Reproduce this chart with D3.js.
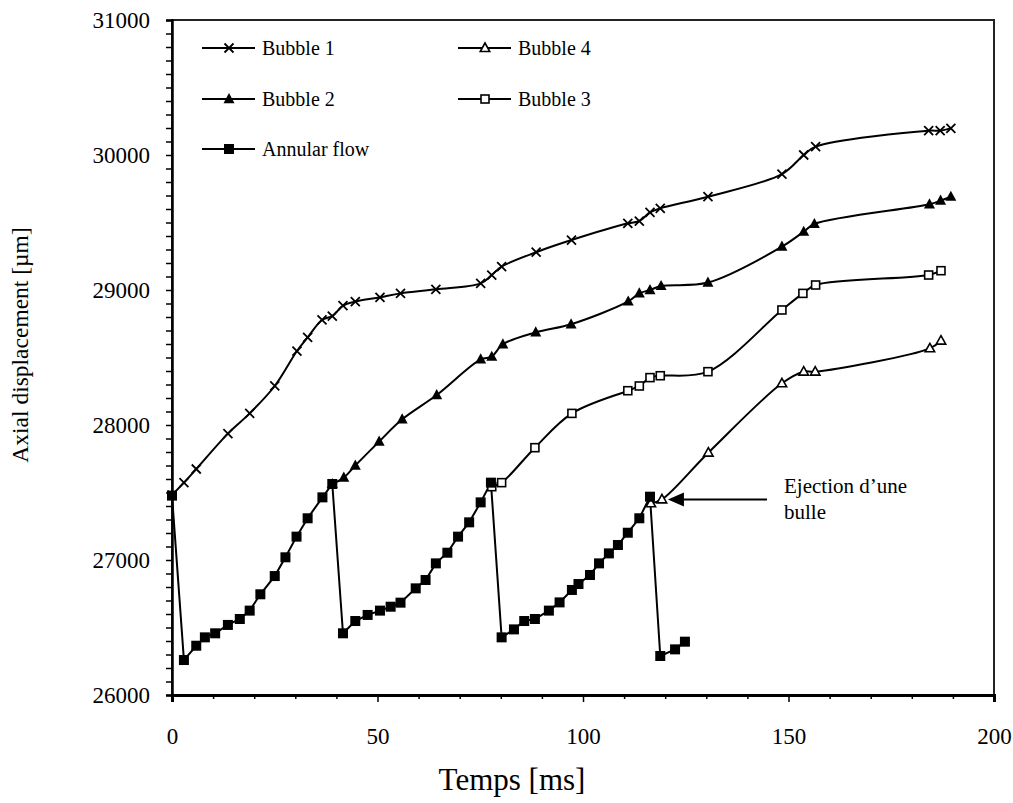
<!DOCTYPE html>
<html>
<head>
<meta charset="utf-8">
<script src="https://cdn.jsdelivr.net/npm/d3@7"></script>
<style>
  html, body { margin: 0; padding: 0; background: #fff; }
  svg { display: block; }
  text { font-family: "Liberation Serif", "DejaVu Serif", serif; fill: #000; }
</style>
</head>
<body>
<svg id="chart" width="1013" height="803" font-family="Liberation Serif"></svg>
<script>
// ---- data ----
const bubble1T = [0, 2.9, 5.9, 13.6, 18.9, 25.0, 30.4, 33.0, 36.5, 39.0, 41.6, 44.6, 50.6, 55.6, 64.2, 75.1, 77.8, 80.2, 88.6, 97.2, 110.9, 113.7, 116.3, 118.8, 130.4, 148.4, 153.7, 156.6, 184.1, 186.9, 189.5];
const bubble1V = [27481, 27573, 27674, 27936, 28086, 28289, 28548, 28649, 28778, 28807, 28884, 28914, 28946, 28975, 29005, 29049, 29111, 29173, 29280, 29370, 29494, 29511, 29575, 29605, 29691, 29859, 30000, 30062, 30180, 30180, 30197];

const bubble2T = [39.0, 41.8, 44.6, 50.4, 56.0, 64.4, 75.1, 77.8, 80.5, 88.5, 97.1, 111.0, 113.7, 116.3, 119.0, 130.4, 148.4, 153.7, 156.3, 184.3, 187.0, 189.5];
const bubble2V = [27563, 27610, 27700, 27877, 28042, 28222, 28486, 28506, 28598, 28686, 28746, 28915, 28975, 29000, 29030, 29055, 29321, 29432, 29489, 29635, 29662, 29691];

const bubble3T = [77.8, 80.2, 88.3, 97.3, 110.9, 113.7, 116.3, 118.8, 130.4, 148.4, 153.5, 156.6, 184.1, 187.1];
const bubble3V = [27543, 27573, 27832, 28086, 28254, 28289, 28351, 28365, 28395, 28852, 28975, 29037, 29111, 29143];

const bubble4T = [116.5, 119.2, 130.5, 148.4, 153.7, 156.5, 184.4, 187.1];
const bubble4V = [27420, 27449, 27795, 28309, 28395, 28395, 28568, 28625];

const annularT = [0, 2.9, 5.9, 8.0, 10.5, 13.6, 16.5, 18.9, 21.5, 25.0, 27.6, 30.3, 33.0, 36.6, 39.0, 41.6, 44.6, 47.6, 50.6, 53.2, 55.6, 59.3, 61.7, 64.2, 67.0, 69.6, 72.3, 75.1, 77.6, 80.2, 83.2, 85.7, 88.3, 91.7, 94.3, 97.3, 98.9, 101.7, 103.9, 106.3, 108.5, 110.9, 113.7, 116.3, 118.8, 122.4, 124.8];
const annularV = [27477, 26259, 26365, 26427, 26457, 26519, 26563, 26625, 26746, 26881, 27020, 27173, 27309, 27464, 27563, 26457, 26548, 26593, 26625, 26654, 26684, 26790, 26852, 26975, 27054, 27173, 27279, 27427, 27573, 26427, 26486, 26548, 26563, 26625, 26686, 26778, 26822, 26889, 26975, 27049, 27111, 27202, 27309, 27469, 26289, 26338, 26395];

const xTicks = [0, 50, 100, 150, 200];
const yTicks = [26000, 27000, 28000, 29000, 30000, 31000];
const xTitle = "Temps [ms]";
const yTitle = "Axial displacement [µm]";
const annotationLines = ["Ejection d\u2019une", "bulle"];
const annotationPoint = [119.2, 27449];

// ---- layout ----
const svg = d3.select("#chart");
const L = 172, R = 994, T = 20, B = 695;
const x = d3.scaleLinear().domain([0, 200]).range([L, R]);
const y = d3.scaleLinear().domain([26000, 31000]).range([B, T]);

// frame
svg.append("rect").attr("x", L).attr("y", T).attr("width", R - L).attr("height", B - T)
  .attr("fill", "none").attr("stroke", "#222").attr("stroke-width", 2);

// x axis
const xAxis = d3.axisBottom(x).tickValues(xTicks).tickSize(7).tickPadding(26).tickFormat(d3.format("d"));
const gx = svg.append("g").attr("transform", `translate(0,${B})`).call(xAxis);
gx.attr("font-family", null);
gx.select(".domain").attr("stroke-width", 3);
gx.selectAll(".tick line").attr("stroke-width", 1.5);
gx.selectAll("text").style("font-size", "23px").style("font-family", "Liberation Serif");
const gxm = svg.append("g").attr("transform", `translate(0,${B})`)
  .call(d3.axisBottom(x).tickValues(d3.range(0, 201, 10).filter(v => v % 50)).tickSize(4).tickFormat(""));
gxm.select(".domain").remove();
gxm.selectAll(".tick line").attr("stroke-width", 1.5);

// y axis
const yAxis = d3.axisLeft(y).tickValues(yTicks).tickSize(6).tickPadding(16).tickFormat(d3.format("d"));
const gy = svg.append("g").attr("transform", `translate(${L},0)`).call(yAxis);
gy.attr("font-family", null);
gy.select(".domain").attr("stroke-width", 2.5);
gy.selectAll(".tick line").attr("stroke-width", 1.5);
gy.selectAll("text").style("font-size", "23px").style("font-family", "Liberation Serif");
const gym = svg.append("g").attr("transform", `translate(${L},0)`)
  .call(d3.axisLeft(y).tickValues(d3.range(26100, 31000, 100).filter(v => v % 1000)).tickSize(6).tickFormat(""));
gym.select(".domain").remove();
gym.selectAll(".tick line").attr("stroke-width", 1.5);

// titles
svg.append("text").attr("x", 512).attr("y", 790).attr("text-anchor", "middle")
  .style("font-size", "31px").text(xTitle);
svg.append("text").attr("transform", `translate(28,345) rotate(-90)`).attr("text-anchor", "middle")
  .style("font-size", "23.5px").text(yTitle);

// ---- series ----
const zip = (ts, vs) => ts.map((t, i) => [t, vs[i]]);
const smooth = d3.line().x(d => x(d[0])).y(d => y(d[1])).curve(d3.curveCatmullRom.alpha(0.5));
const straight = d3.line().x(d => x(d[0])).y(d => y(d[1]));

const sym = {
  cross: (g, s) => g.append("path").attr("d", `M${-s},${-s}L${s},${s}M${-s},${s}L${s},${-s}`)
      .attr("stroke", "#000").attr("stroke-width", 1.8).attr("fill", "none"),
  triFill: (g, s) => g.append("path").attr("d", `M0,${-s * 1.1}L${s},${s * 0.75}L${-s},${s * 0.75}Z`).attr("fill", "#000"),
  triOpen: (g, s) => g.append("path").attr("d", `M0,${-s}L${s * 0.95},${s * 0.7}L${-s * 0.95},${s * 0.7}Z`)
      .attr("fill", "#fff").attr("stroke", "#000").attr("stroke-width", 1.6),
  sqFill: (g, s) => g.append("rect").attr("x", -s).attr("y", -s).attr("width", 2 * s).attr("height", 2 * s).attr("fill", "#000"),
  sqOpen: (g, s) => g.append("rect").attr("x", -s).attr("y", -s).attr("width", 2 * s).attr("height", 2 * s)
      .attr("fill", "#fff").attr("stroke", "#000").attr("stroke-width", 1.6)
};

const series = [
  { name: "Bubble 1", data: zip(bubble1T, bubble1V), marker: "cross", size: 4.5, line: smooth },
  { name: "Bubble 2", data: zip(bubble2T, bubble2V), marker: "triFill", size: 5.5, line: smooth },
  { name: "Bubble 3", data: zip(bubble3T, bubble3V), marker: "sqOpen", size: 4, line: smooth },
  { name: "Bubble 4", data: zip(bubble4T, bubble4V), marker: "triOpen", size: 5, line: smooth },
  { name: "Annular flow", data: zip(annularT, annularV), marker: "sqFill", size: 5, line: straight }
];

series.forEach(s => {
  svg.append("path").attr("d", s.line(s.data)).attr("fill", "none")
    .attr("stroke", "#000").attr("stroke-width", 2);
});
series.forEach(s => {
  s.data.forEach(d => {
    const g = svg.append("g").attr("transform", `translate(${x(d[0])},${y(d[1])})`);
    sym[s.marker](g, s.size);
  });
});

// legend
const legendItems = [
  { s: series[0], lx: 202, ly: 48 },
  { s: series[3], lx: 458, ly: 48 },
  { s: series[1], lx: 202, ly: 99 },
  { s: series[2], lx: 458, ly: 99 },
  { s: series[4], lx: 202, ly: 149 }
];
legendItems.forEach(it => {
  const g = svg.append("g").attr("transform", `translate(${it.lx},${it.ly})`);
  g.append("line").attr("x1", 0).attr("x2", 53).attr("y1", 0).attr("y2", 0)
    .attr("stroke", "#000").attr("stroke-width", 2);
  const m = g.append("g").attr("transform", "translate(27,0)");
  sym[it.s.marker](m, it.s.size);
  g.append("text").attr("x", 60).attr("y", 7).style("font-size", "20px").text(it.s.name);
});

// annotation
const ax = x(annotationPoint[0]) + 6, ay = y(annotationPoint[1]);
svg.append("line").attr("x1", ax + 14).attr("x2", 767).attr("y1", ay).attr("y2", ay)
  .attr("stroke", "#000").attr("stroke-width", 2);
svg.append("path").attr("d", `M${ax},${ay}L${ax + 16},${ay - 7}L${ax + 16},${ay + 7}Z`).attr("fill", "#000");
svg.append("text").attr("x", 784).attr("y", 493).style("font-size", "21px").text(annotationLines[0]);
svg.append("text").attr("x", 784).attr("y", 519).style("font-size", "21px").text(annotationLines[1]);
</script>
</body>
</html>
